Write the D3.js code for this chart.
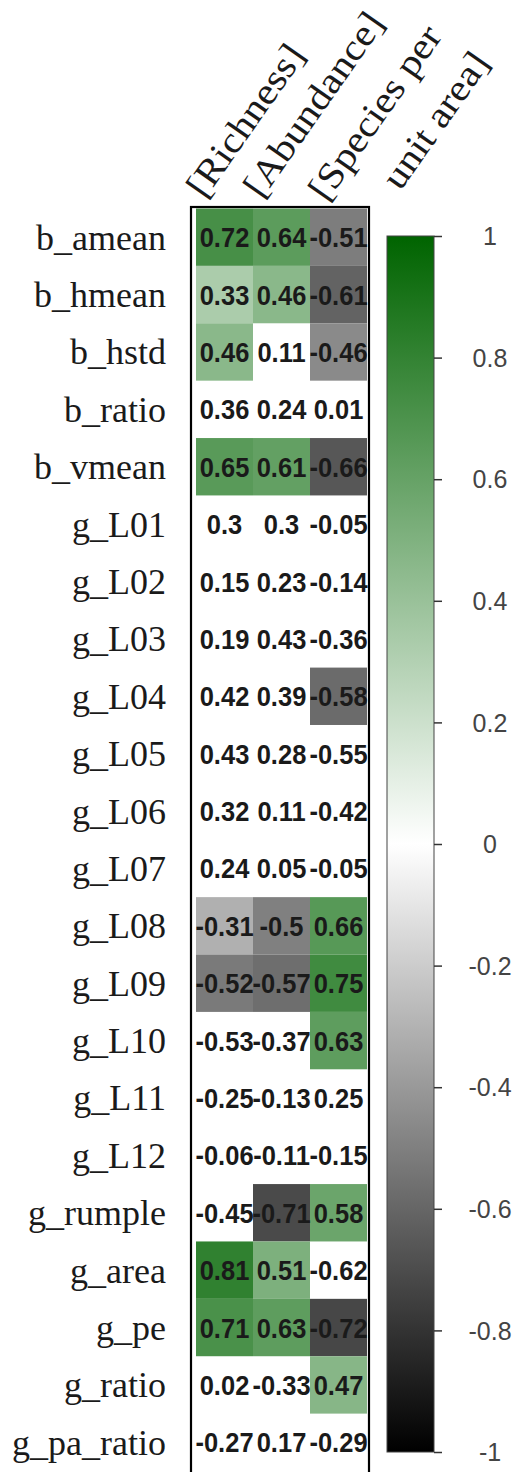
<!DOCTYPE html>
<html>
<head>
<meta charset="utf-8">
<script src="https://cdn.jsdelivr.net/npm/d3@7"></script>
<style>
  body { margin: 0; background: #fff; }
  svg { display: block; }
</style>
</head>
<body>
<div id="chart"></div>
<script>
// correlation values, one array per column (rows in order)
const rows = ['b_amean', 'b_hmean', 'b_hstd', 'b_ratio', 'b_vmean', 'g_L01', 'g_L02', 'g_L03',
  'g_L04', 'g_L05', 'g_L06', 'g_L07', 'g_L08', 'g_L09', 'g_L10', 'g_L11', 'g_L12',
  'g_rumple', 'g_area', 'g_pe', 'g_ratio', 'g_pa_ratio'];
const cols = ['[Richness]', '[Abundance]', '[Species per\nunit area]'];

const richness = [0.72, 0.33, 0.46, 0.36, 0.65, 0.3, 0.15, 0.19, 0.42, 0.43, 0.32, 0.24,
  -0.31, -0.52, -0.53, -0.25, -0.06, -0.45, 0.81, 0.71, 0.02, -0.27];
const abundance = [0.64, 0.46, 0.11, 0.24, 0.61, 0.3, 0.23, 0.43, 0.39, 0.28, 0.11, 0.05,
  -0.5, -0.57, -0.37, -0.13, -0.11, -0.71, 0.51, 0.63, -0.33, 0.17];
const speciesPerArea = [-0.51, -0.61, -0.46, 0.01, -0.66, -0.05, -0.14, -0.36, -0.58, -0.55, -0.42, -0.05,
  0.66, 0.75, 0.63, 0.25, -0.15, 0.58, -0.62, -0.72, 0.47, -0.29];

// 1 = significant (cell filled), 0 = left blank
const richnessSig = [1, 1, 1, 0, 1, 0, 0, 0, 0, 0, 0, 0, 1, 1, 0, 0, 0, 0, 1, 1, 0, 0];
const abundanceSig = [1, 1, 0, 0, 1, 0, 0, 0, 0, 0, 0, 0, 1, 1, 0, 0, 0, 1, 1, 1, 0, 0];
const speciesSig = [1, 1, 1, 0, 1, 0, 0, 0, 1, 0, 0, 0, 1, 1, 1, 0, 0, 1, 0, 1, 1, 0];

const legendTicks = [1, 0.8, 0.6, 0.4, 0.2, 0, -0.2, -0.4, -0.6, -0.8, -1];

const series = [richness, abundance, speciesPerArea];
const sigs = [richnessSig, abundanceSig, speciesSig];

const cells = [];
cols.forEach((c, j) => {
  rows.forEach((r, i) => {
    cells.push({ row: r, col: c, value: series[j][i], sig: sigs[j][i] });
  });
});

const W = 515, H = 1472;
const svg = d3.select('#chart').append('svg')
  .attr('width', W)
  .attr('height', H);

const x = d3.scaleBand().domain(cols).range([196, 367]);
const y = d3.scaleBand().domain(rows).range([208.5, 1471]);

const color = d3.scaleLinear()
  .domain([-1, 0, 1])
  .range(['#000000', '#ffffff', '#006400']);

// cells
svg.selectAll('.cell')
  .data(cells.filter(d => d.sig))
  .enter().append('rect')
  .attr('class', 'cell')
  .attr('x', d => x(d.col))
  .attr('y', d => y(d.row))
  .attr('width', x.bandwidth())
  .attr('height', y.bandwidth())
  .attr('fill', d => color(d.value));

// cell numbers
svg.selectAll('.num')
  .data(cells)
  .enter().append('text')
  .attr('class', 'num')
  .attr('transform', d => `translate(${x(d.col) + x.bandwidth() / 2},${y(d.row) + y.bandwidth() / 2 + 10}) scale(1,1.1)`)
  .attr('text-anchor', 'middle')
  .style('font-family', '"Liberation Sans", Arial, sans-serif')
  .style('font-weight', 'bold')
  .style('font-size', '25.5px')
  .style('fill', '#1a1a1a')
  .text(d => String(d.value));

// frame round the matrix
svg.append('rect')
  .attr('x', 191)
  .attr('y', 207)
  .attr('width', 178)
  .attr('height', 1280)
  .attr('fill', 'none')
  .attr('stroke', '#000')
  .attr('stroke-width', 2.2);

// row labels
svg.selectAll('.rowlab')
  .data(rows)
  .enter().append('text')
  .attr('class', 'rowlab')
  .attr('x', 166)
  .attr('y', d => y(d) + y.bandwidth() / 2 + 12.5)
  .attr('text-anchor', 'end')
  .style('font-family', '"Liberation Serif", "Times New Roman", serif')
  .style('font-size', '36px')
  .style('fill', '#1a1a1a')
  .text(d => d);

// column labels, rotated
const colLab = svg.selectAll('.collab')
  .data(cols)
  .enter().append('text')
  .attr('class', 'collab')
  .attr('transform', d => {
    const multi = d.includes('\n');
    const cx = x(d) + x.bandwidth() / 2 - 20 + (multi ? 8 : 0);
    const cy = 200 + (multi ? 3 : 0);
    return `translate(${cx},${cy}) rotate(-55) scale(1.12,1)`;
  })
  .style('font-family', '"Liberation Serif", "Times New Roman", serif')
  .style('font-size', '37px')
  .style('fill', '#1a1a1a');

colLab.selectAll('tspan')
  .data(d => d.split('\n'))
  .enter().append('tspan')
  .attr('x', (d, i) => i * 46)
  .attr('dy', (d, i) => i === 0 ? 0 : 54)
  .text(d => d);

// colour legend
const lx = 387, lw = 47, lTop = 236, lBottom = 1452;
const ly = d3.scaleLinear().domain([-1, 1]).range([lBottom, lTop]);

const grad = svg.append('defs').append('linearGradient')
  .attr('id', 'legendGrad')
  .attr('x1', 0).attr('y1', 1).attr('x2', 0).attr('y2', 0);
grad.selectAll('stop')
  .data([-1, 0, 1])
  .enter().append('stop')
  .attr('offset', d => (d + 1) / 2)
  .attr('stop-color', d => color(d));

svg.append('rect')
  .attr('x', lx)
  .attr('y', lTop)
  .attr('width', lw)
  .attr('height', lBottom - lTop)
  .attr('fill', 'url(#legendGrad)')
  .attr('stroke', '#444')
  .attr('stroke-width', 1);

const axis = svg.append('g')
  .attr('transform', `translate(${lx + lw},0)`)
  .call(d3.axisRight(ly).tickValues(legendTicks).tickSize(8).tickFormat(d => String(d)));

axis.select('.domain').remove();
axis.selectAll('line').attr('stroke', '#333').attr('stroke-width', 1.5);
axis.selectAll('text')
  .attr('x', 56)
  .attr('dy', '0.35em')
  .attr('text-anchor', 'middle')
  .style('font-family', '"Liberation Sans", Arial, sans-serif')
  .style('font-size', '25px')
  .style('fill', '#444');
</script>
</body>
</html>
